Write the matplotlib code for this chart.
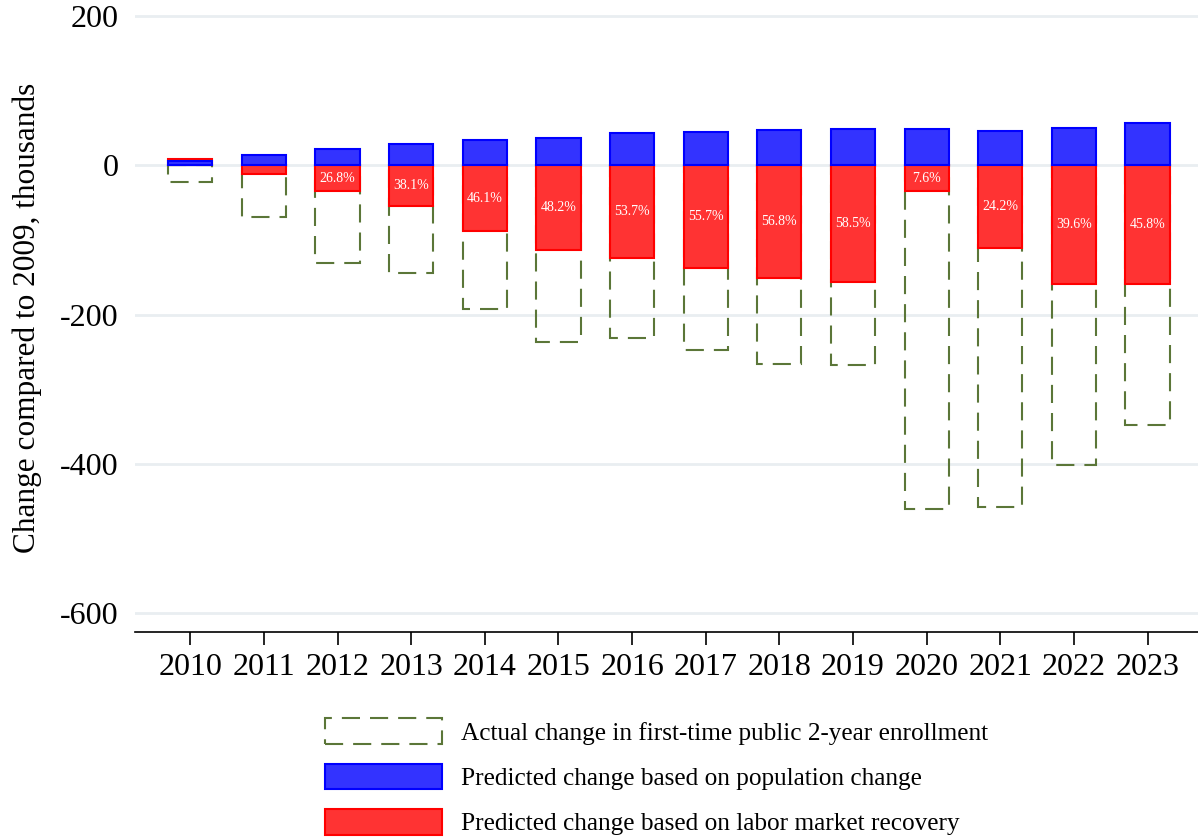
import numpy as np
import matplotlib
matplotlib.use('Agg')
import matplotlib.pyplot as plt
from matplotlib.patches import Patch

plt.rcParams['font.family'] = ['Liberation Serif', 'DejaVu Serif']

years = np.arange(2010, 2024)
actual = [-23, -69, -131, -145, -193, -237, -232, -248, -266, -268, -460, -458, -402, -348]
population = [6, 14, 21, 28, 33, 37, 43, 45, 47, 48, 48, 46, 50, 56]
labor = [8, -12, -35, -55, -88, -114, -124, -138, -151, -157, -35, -111, -159, -159]
share_labels = ['', '', '26.8%', '38.1%', '46.1%', '48.2%', '53.7%', '55.7%',
                '56.8%', '58.5%', '7.6%', '24.2%', '39.6%', '45.8%']

green = '#5b7638'
blue_fill, blue_edge = '#3333ff', '#0000ff'
red_fill, red_edge = '#ff3333', '#ff0000'
dash = (0, (8.7, 4.8))

fig = plt.figure(figsize=(11.98, 8.4), dpi=100)
ax = fig.add_axes([0.1127, 0.2476, 0.887, 0.747])

w = 0.6
for g in [-600, -400, -200, 0, 200]:
    ax.axhline(g, color='#e9eef1', lw=2, zorder=0)

ax.bar(years, actual, width=w, facecolor='none', edgecolor=green,
       linewidth=1.5, linestyle=dash, zorder=1)
ax.bar(years, labor, width=w, color=red_fill, edgecolor=red_edge,
       linewidth=1.5, zorder=2)
ax.bar(years, population, width=w, color=blue_fill, edgecolor=blue_edge,
       linewidth=1.5, zorder=3)

for x, v, s in zip(years, labor, share_labels):
    if s:
        ax.text(x, v / 2, s, ha='center', va='center', color='white',
                fontsize=10, zorder=4)

ax.set_xlim(2009.25, 2023.68)
ax.set_ylim(-625, 215)
ax.set_xticks(years)
ax.set_yticks([-600, -400, -200, 0, 200])
ax.set_yticklabels(['-600', '-400', '-200', '0', '200'])
ax.tick_params(axis='y', length=0, pad=12, labelsize=23)
ax.tick_params(axis='x', length=9, width=1.2, pad=6, labelsize=23)
for side in ['top', 'right', 'left']:
    ax.spines[side].set_visible(False)
ax.spines['bottom'].set_linewidth(1.2)

ax.set_ylabel('Change compared to 2009, thousands', fontsize=22.5)
ax.yaxis.set_label_coords(-0.0875, 0.5)

handles = [
    Patch(facecolor='none', edgecolor=green, linewidth=1.5, linestyle=dash),
    Patch(facecolor=blue_fill, edgecolor=blue_edge, linewidth=1.5),
    Patch(facecolor=red_fill, edgecolor=red_edge, linewidth=1.5),
]
labels = ['Actual change in first-time public 2-year enrollment',
          'Predicted change based on population change',
          'Predicted change based on labor market recovery']
fig.legend(handles, labels, loc='upper left', bbox_to_anchor=(0.271, 0.145),
           frameon=False, fontsize=18.2, handlelength=4.66, handleheight=1.19,
           handletextpad=0.75, labelspacing=0.75, borderpad=0, borderaxespad=0)

fig.savefig('out.png', dpi=100)
